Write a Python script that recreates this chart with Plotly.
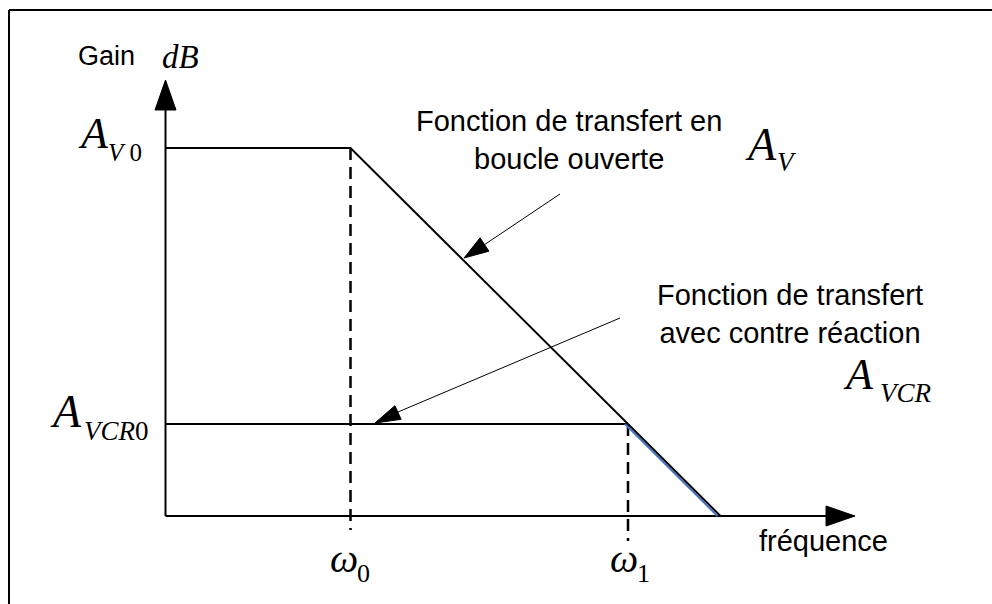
import plotly.graph_objects as go

W, H = 992, 604

# ---------------- data (schematic Bode asymptotes) ----------------
# x : log10 of frequency (decades from the origin), y : gain in dB
log_w0 = 2.5            # open-loop corner  (omega_0)
log_w1 = 6.25           # closed-loop corner (omega_1)
log_w_end = 7.5         # open-loop 0 dB crossing
gain_AV0 = 100.0        # open-loop DC gain
gain_AVCR0 = 25.0       # closed-loop DC gain

open_loop_x = [0, log_w0, log_w_end]
open_loop_y = [gain_AV0, gain_AV0, 0]
closed_flat_x = [0, log_w1]
closed_flat_y = [gain_AVCR0, gain_AVCR0]
closed_slope_x = [6.21, 7.46]
closed_slope_y = [gain_AVCR0, 0]

# ---------------- scale (screen-pixel mapping of the schematic) ----------------
OX, OY = 165.5, 516.0          # screen position of the origin
PX_DEC, PX_DB = 74.0, 3.68     # pixels per decade / per dB


def dx(px):
    return (px - OX) / PX_DEC


def dy(py):
    return (OY - py) / PX_DB


def tri(tip, base, half_w):
    (tx, ty), (bx, by) = tip, base
    ux, uy = tx - bx, ty - by
    n = (ux ** 2 + uy ** 2) ** 0.5
    nx, ny = -uy / n * half_w, ux / n * half_w
    pts = [(tx, ty), (bx + nx, by + ny), (bx - nx, by - ny), (tx, ty)]
    return [dx(p[0]) for p in pts], [dy(p[1]) for p in pts]


BLACK = "#000000"
fig = go.Figure()


def line(xs, ys, color=BLACK, width=2, dash=None):
    fig.add_trace(go.Scatter(x=xs, y=ys, mode="lines", hoverinfo="skip",
                             line=dict(color=color, width=width, dash=dash)))


def head(tip, base, half_w):
    xs, ys = tri(tip, base, half_w)
    fig.add_trace(go.Scatter(x=xs, y=ys, mode="lines", fill="toself",
                             fillcolor=BLACK, hoverinfo="skip",
                             line=dict(color=BLACK, width=1)))


# axes with arrows
line([0, 0], [0, dy(110)])
head((OX, 80), (OX, 110), 10.5)
line([0, dx(826)], [0, 0])
head((855, OY), (826, OY), 10)

# dashed frequency markers
line([log_w0, log_w0], [gain_AV0, dy(530)], width=2.5, dash="12px,7px")
line([log_w1, log_w1], [gain_AVCR0, dy(541)], width=2.5, dash="12px,7px")

# closed-loop response
line(closed_flat_x, closed_flat_y)
line(closed_slope_x, closed_slope_y, color="#4472C4", width=2)
# open-loop response
line(open_loop_x, open_loop_y)

# callout arrows
line([dx(560), dx(484)], [dy(194), dy(245)], width=1)
head((464, 258), (484.5, 244.5), 8)
line([dx(620), dx(398)], [dy(318), dy(412)], width=1)
head((375, 423), (398, 412.5), 7.5)

SANS = "Liberation Sans, Arial, sans-serif"
SERIF = "Liberation Serif, Times New Roman, serif"


def label(text, xl, baseline, size, family, italic=False):
    fig.add_annotation(x=dx(xl), y=dy(baseline - 0.34 * size), text=text,
                       showarrow=False, xanchor="left", yanchor="middle",
                       borderpad=0,
                       font=dict(family=family, size=size, color=BLACK,
                                 style="italic" if italic else "normal"))


label("Gain", 77, 65, 27, SANS)
label("dB", 161, 68, 33, SERIF, italic=True)

label("A", 77, 148, 44, SERIF, italic=True)
label("<i>V</i> 0", 107, 161, 25, SERIF)
label("A", 49, 427, 46, SERIF, italic=True)
label("<i>VCR</i>0", 83, 440, 27, SERIF)
label("A", 744, 160, 46, SERIF, italic=True)
label("V", 776, 171, 27, SERIF, italic=True)
label("A", 842, 389, 44, SERIF, italic=True)
label("VCR", 879, 402, 27, SERIF, italic=True)

label("ω", 329, 572, 40, SERIF, italic=True)
label("0", 356, 582, 26, SERIF)
label("ω", 609, 572, 40, SERIF, italic=True)
label("1", 636, 582, 26, SERIF)

label("fréquence", 758, 551, 29, SANS)

fig.add_annotation(x=dx(569), y=dy(132 - 0.34 * 29 + 18),
                   text="Fonction de transfert en<br>boucle ouverte",
                   showarrow=False, xanchor="center", yanchor="middle",
                   align="center", font=dict(family=SANS, size=29, color=BLACK))
fig.add_annotation(x=dx(790), y=dy(305 - 0.34 * 29 + 19),
                   text="Fonction de transfert<br>avec contre réaction",
                   showarrow=False, xanchor="center", yanchor="middle",
                   align="center", font=dict(family=SANS, size=29, color=BLACK))

# outer frame: only its left and top edges fall inside the picture
fx, fy = 9 / W, 1 - 10 / H
fig.add_shape(type="line", xref="paper", yref="paper",
              x0=fx, x1=fx, y0=0, y1=fy, line=dict(color=BLACK, width=2))
fig.add_shape(type="line", xref="paper", yref="paper",
              x0=fx, x1=1, y0=fy, y1=fy, line=dict(color=BLACK, width=2))

fig.update_layout(
    width=W, height=H, margin=dict(l=0, r=0, t=0, b=0),
    paper_bgcolor="white", plot_bgcolor="white", showlegend=False,
    xaxis=dict(visible=False, range=[dx(0), dx(W)], fixedrange=True),
    yaxis=dict(visible=False, range=[dy(H), dy(0)], fixedrange=True),
)

fig.write_html(
    "out.html",
    config={"displayModeBar": False, "staticPlot": True},
    post_script="document.body.style.margin='0';document.body.style.overflow='hidden';",
)
